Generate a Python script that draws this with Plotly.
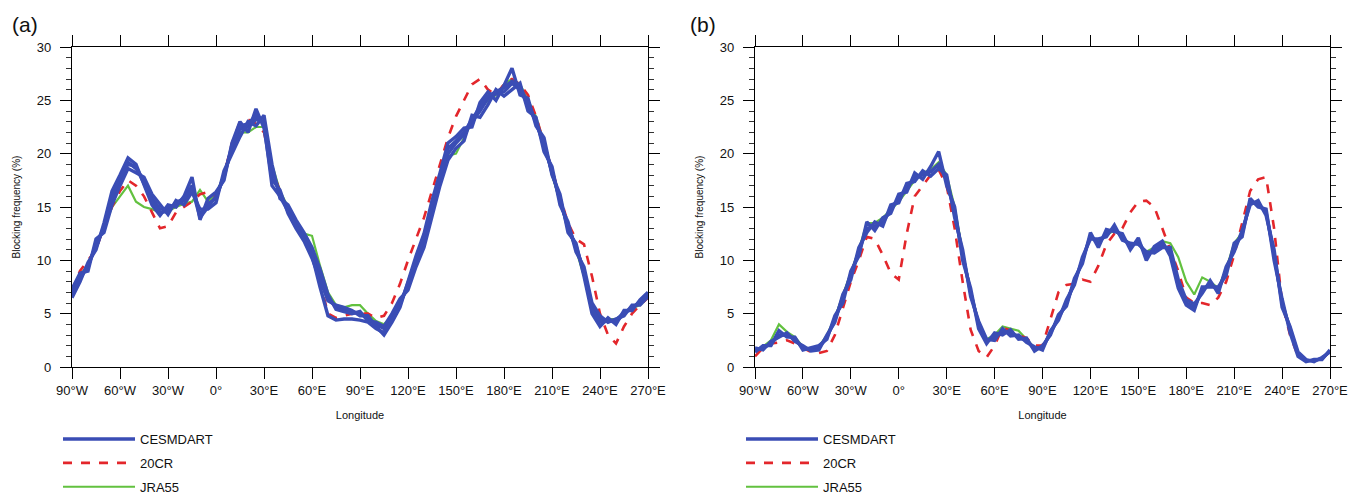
import plotly.graph_objects as go

lon = list(range(-90, 271, 5))
tick_vals = [-90, -60, -30, 0, 30, 60, 90, 120, 150, 180, 210, 240, 270]
tick_text = ["90°W", "60°W", "30°W", "0°", "30°E", "60°E", "90°E", "120°E",
             "150°E", "180°E", "210°E", "240°E", "270°E"]

# ---------------- panel (a) ----------------
cesm_a1 = [7.0, 8.4, 9.4, 11.5, 13.0, 15.8, 17.5, 19.2, 18.6, 17.5, 15.8, 14.8, 14.8, 15.3, 15.6, 17.0,
           14.3, 15.3, 15.8, 18.0, 20.5, 22.3, 22.5, 23.2, 23.0, 18.5, 16.2, 14.8, 13.5, 12.3, 10.8, 8.8,
           6.5, 5.6, 5.4, 5.2, 5.0, 4.6, 4.0, 3.6, 4.6, 6.0, 7.6, 9.8, 11.8, 14.8, 17.5, 20.0, 21.0, 21.8,
           23.0, 24.0, 25.2, 25.6, 25.8, 26.6, 26.0, 24.6, 23.0, 20.8, 18.4, 15.6, 13.2, 11.2, 9.0, 5.6,
           4.5, 4.4, 4.2, 5.0, 5.6, 6.0, 6.8]
cesm_a2 = [6.5, 8.0, 9.8, 11.0, 13.5, 16.5, 18.0, 19.6, 19.0, 17.0, 15.2, 14.2, 15.2, 15.0, 16.0, 17.8,
           13.8, 15.8, 16.4, 17.5, 21.0, 23.0, 22.0, 24.2, 22.4, 17.6, 16.6, 14.4, 13.0, 11.8, 10.2, 8.2,
           6.2, 5.8, 5.6, 5.3, 4.8, 4.8, 3.8, 3.0, 4.2, 5.6, 8.0, 10.4, 12.5, 15.6, 18.2, 21.0, 21.6, 22.4,
           22.5, 24.8, 25.8, 25.0, 26.4, 28.0, 25.5, 25.2, 22.6, 21.5, 18.0, 16.2, 12.6, 11.6, 8.5, 5.0,
           3.8, 4.6, 4.0, 5.3, 5.3, 6.3, 7.0]
cesm_a3 = [7.3, 8.8, 9.0, 12.0, 12.6, 15.2, 17.0, 18.6, 18.2, 17.8, 16.2, 15.2, 14.3, 15.6, 15.2, 16.4,
           14.8, 14.8, 15.4, 18.4, 20.0, 21.6, 23.0, 22.6, 23.6, 19.0, 15.8, 15.2, 13.8, 12.6, 11.2, 9.2,
           6.8, 5.4, 5.2, 5.0, 5.2, 4.3, 4.2, 3.8, 5.0, 6.4, 7.2, 9.4, 11.2, 14.2, 17.0, 19.4, 20.5, 21.2,
           23.6, 23.4, 24.6, 26.0, 25.4, 26.0, 26.6, 24.0, 23.4, 20.2, 18.8, 15.2, 13.6, 10.8, 9.4, 6.0,
           4.8, 4.2, 4.5, 4.8, 5.8, 5.8, 6.6]
cesm_a4 = [6.8, 8.2, 9.6, 11.2, 13.2, 16.0, 17.8, 19.0, 18.8, 17.2, 15.5, 14.5, 14.6, 15.4, 15.8, 16.8,
           14.0, 15.0, 16.0, 17.8, 20.8, 22.6, 22.8, 23.6, 22.8, 17.0, 16.0, 14.6, 13.2, 12.0, 10.5, 7.5,
           4.8, 4.4, 4.5, 4.5, 4.4, 4.2, 3.6, 3.2, 4.4, 5.8, 7.8, 10.0, 12.2, 15.2, 17.8, 20.5, 21.2, 22.0,
           23.2, 24.4, 25.4, 25.8, 26.2, 26.8, 26.2, 24.8, 22.8, 21.0, 18.2, 15.8, 13.0, 11.4, 8.8, 5.4,
           4.2, 4.3, 4.4, 5.1, 5.5, 6.1, 6.9]
cr20_a = [7.2, 9.0, 10.0, 11.0, 13.2, 15.0, 16.5, 17.5, 17.0, 16.0, 14.5, 13.0, 13.2, 14.5, 15.0, 15.5,
          16.2, 16.4, 16.0, 18.0, 21.0, 23.0, 23.2, 22.8, 22.0, 18.5, 16.5, 14.5, 13.0, 12.2, 11.0, 8.0,
          5.0, 4.6, 4.8, 5.0, 5.0, 5.0, 4.6, 4.8, 6.0, 7.8, 10.0, 12.0, 14.0, 16.5, 19.0, 21.5, 23.5, 25.0,
          26.5, 27.0, 26.0, 25.5, 26.5, 27.0, 26.5, 25.5, 23.5, 21.0, 18.5, 16.0, 13.5, 12.0, 11.5, 8.5,
          5.0, 3.0, 2.2, 3.8, 5.0, 5.8, 6.5]
jra_a = [7.0, 8.6, 9.6, 11.5, 13.0, 15.0, 16.0, 17.0, 15.5, 15.0, 14.8, 14.5, 14.6, 15.0, 15.3, 15.5,
         16.6, 15.5, 16.2, 18.0, 20.5, 22.0, 22.0, 22.5, 22.5, 19.0, 16.5, 15.0, 13.5, 12.5, 12.3, 9.5,
         7.0, 5.8, 5.6, 5.8, 5.8, 5.0, 4.3, 4.0, 4.8, 6.0, 7.5, 9.5, 12.0, 14.5, 17.5, 19.8, 20.0, 21.5,
         23.0, 24.2, 25.0, 25.5, 26.5, 27.0, 26.5, 25.0, 23.5, 21.0, 18.0, 15.5, 13.0, 11.0, 8.5, 5.5,
         4.3, 4.5, 4.5, 5.0, 5.5, 5.8, 6.5]

# ---------------- panel (b) ----------------
cesm_b1 = [1.6, 1.8, 2.2, 3.0, 3.0, 2.6, 1.8, 1.6, 1.8, 2.8, 4.4, 6.5, 8.5, 10.8, 13.0, 13.2,
           13.5, 14.8, 15.8, 16.8, 17.8, 18.0, 18.3, 19.0, 17.5, 14.5, 10.5, 7.0, 4.0, 2.4, 2.8, 3.3,
           3.2, 2.8, 2.5, 1.7, 1.8, 3.2, 4.6, 6.0, 8.0, 10.0, 12.3, 11.6, 12.5, 13.0, 12.2, 11.3, 11.8, 10.5,
           11.0, 11.5, 10.8, 7.8, 6.0, 5.6, 7.2, 7.8, 7.2, 9.0, 11.2, 12.5, 15.5, 15.3, 14.5, 10.5,
           6.0, 3.5, 1.2, 0.6, 0.6, 0.8, 1.5]
cesm_b2 = [1.4, 2.0, 2.0, 3.4, 2.8, 2.8, 1.6, 1.8, 2.0, 2.6, 4.8, 6.0, 9.0, 10.4, 13.6, 12.8,
           14.0, 14.4, 16.2, 16.4, 18.2, 17.6, 18.8, 20.2, 17.0, 15.0, 10.0, 7.4, 3.6, 2.2, 3.2, 3.0,
           3.5, 2.6, 2.7, 1.5, 2.0, 3.0, 4.9, 5.7, 8.3, 9.7, 12.6, 11.2, 12.9, 12.7, 12.5, 11.0, 12.1, 10.0,
           11.3, 11.8, 10.4, 7.4, 5.8, 5.3, 7.5, 7.5, 7.5, 8.6, 11.6, 12.2, 15.8, 15.0, 14.8, 10.0,
           6.4, 3.2, 1.0, 0.5, 0.7, 0.7, 1.6]
cesm_b3 = [1.8, 1.6, 2.4, 2.8, 3.2, 2.4, 2.0, 1.5, 1.6, 3.0, 4.2, 6.8, 8.2, 11.2, 12.6, 13.6,
           13.2, 15.2, 15.4, 17.2, 17.4, 18.4, 17.9, 18.6, 18.0, 14.0, 11.0, 6.6, 4.3, 2.6, 2.5, 3.6,
           2.9, 3.0, 2.3, 1.9, 1.6, 3.4, 4.4, 6.3, 7.7, 10.3, 12.0, 12.0, 12.2, 13.3, 11.9, 11.6, 11.5, 10.8,
           10.7, 11.2, 11.2, 8.2, 6.3, 5.9, 6.9, 8.1, 6.9, 9.4, 10.8, 12.8, 15.2, 15.6, 14.2, 11.0,
           5.6, 3.8, 1.4, 0.7, 0.5, 0.9, 1.4]
cr20_b = [1.0, 1.8, 2.2, 2.3, 2.5, 2.2, 1.8, 1.4, 1.3, 1.5, 3.0, 5.5, 8.0, 10.0, 12.2, 12.0,
          10.5, 8.8, 8.2, 12.5, 16.0, 17.0, 18.0, 18.5, 17.0, 13.0, 8.0, 3.5, 1.5, 0.9, 2.0, 3.7,
          3.4, 3.0, 2.7, 2.0, 2.0, 4.5, 7.0, 7.7, 7.8, 8.2, 8.0, 9.5, 11.5, 12.5, 13.0, 14.5, 15.5, 15.6,
          15.0, 13.0, 11.0, 9.0, 6.5, 6.0, 6.0, 5.8, 6.5, 8.0, 10.5, 13.5, 16.5, 17.6, 17.8, 13.0,
          6.0, 3.0, 1.0, 0.6, 0.6, 0.8, 1.4]
jra_b = [1.6, 1.9, 2.5, 4.0, 3.3, 2.8, 1.9, 1.7, 1.9, 3.0, 4.6, 6.8, 9.0, 11.0, 13.5, 13.5,
         14.0, 14.8, 15.5, 16.5, 17.5, 18.2, 18.5, 19.2, 18.0, 15.0, 10.8, 7.2, 4.2, 2.6, 3.0, 3.8,
         3.6, 3.4, 2.6, 1.8, 1.8, 3.2, 4.8, 5.8, 8.0, 10.2, 12.2, 11.8, 12.4, 12.8, 12.2, 11.5, 11.6, 10.8,
         11.2, 11.8, 11.6, 10.3, 8.0, 6.8, 8.4, 8.0, 7.4, 9.2, 11.6, 12.6, 15.4, 15.2, 14.6, 10.8,
         6.2, 3.6, 1.2, 0.6, 0.6, 0.8, 1.5]

BLUE = "#3a4db5"
RED = "#e3262b"
GREEN = "#62c13f"
FONT = "Liberation Sans, Arial, sans-serif"

fig = go.Figure()

panels = [
    dict(cesm=[cesm_a1, cesm_a2, cesm_a3, cesm_a4], cr=cr20_a, jra=jra_a, xa="x", ya="y", lg="legend"),
    dict(cesm=[cesm_b1, cesm_b2, cesm_b3], cr=cr20_b, jra=jra_b, xa="x2", ya="y2", lg="legend2"),
]

for p in panels:
    fig.add_trace(go.Scatter(x=lon, y=p["jra"], mode="lines", name="JRA55",
                             line=dict(color=GREEN, width=2.2), xaxis=p["xa"], yaxis=p["ya"],
                             legend=p["lg"], legendrank=3, legendgroup="g"))
    fig.add_trace(go.Scatter(x=lon, y=p["cr"], mode="lines", name="20CR",
                             line=dict(color=RED, width=2.6, dash="dash"), xaxis=p["xa"], yaxis=p["ya"],
                             legend=p["lg"], legendrank=2, legendgroup="r"))
    for i, m in enumerate(p["cesm"]):
        fig.add_trace(go.Scatter(x=lon, y=m, mode="lines", name="CESMDART",
                                 line=dict(color=BLUE, width=3.4), xaxis=p["xa"], yaxis=p["ya"],
                                 legend=p["lg"], legendrank=1, legendgroup="c", showlegend=(i == 0)))

W, H = 1348, 495
dom_a = [72 / W, 648 / W]
dom_b = [755 / W, 1330 / W]
ydom = [(H - 367) / H, (H - 47) / H]

xcommon = dict(range=[-90, 270], tickvals=tick_vals, ticktext=tick_text, ticks="outside",
               ticklen=11, tickwidth=1.3, tickcolor="black", showline=True, linecolor="black",
               linewidth=1.3, mirror="ticks", showgrid=False, zeroline=False, automargin=False,
               ticklabeloverflow="allow",
               tickfont=dict(size=13, color="#111", family=FONT),
               title=dict(text="Longitude", font=dict(size=11, color="#111", family=FONT), standoff=14))
ycommon = dict(range=[0, 30], dtick=5, tick0=0, ticks="outside", ticklen=11, tickwidth=1.3,
               tickcolor="black", showline=True, linecolor="black", linewidth=1.3, mirror="ticks",
               showgrid=False, zeroline=False, automargin=False, ticklabelstandoff=6,
               minor=dict(dtick=1, ticks="outside", ticklen=5, tickcolor="#333", tickwidth=1),
               tickfont=dict(size=13, color="#111", family=FONT),
               title=dict(text="Blocking frequency (%)", font=dict(size=10, color="#111", family=FONT),
                          standoff=14))

fig.update_layout(
    width=W, height=H,
    margin=dict(l=0, r=0, t=0, b=0, autoexpand=False),
    paper_bgcolor="white", plot_bgcolor="white",
    font=dict(family=FONT, color="#111"),
    xaxis=dict(domain=dom_a, anchor="y", **xcommon),
    yaxis=dict(domain=ydom, anchor="x", **ycommon),
    xaxis2=dict(domain=dom_b, anchor="y2", **xcommon),
    yaxis2=dict(domain=ydom, anchor="x2", **ycommon),
    legend=dict(x=58 / W, y=1 - 424 / H, xanchor="left", yanchor="top", orientation="v",
                font=dict(size=13, color="#111", family=FONT), bgcolor="rgba(0,0,0,0)",
                tracegroupgap=4, itemwidth=72),
    legend2=dict(x=741 / W, y=1 - 424 / H, xanchor="left", yanchor="top", orientation="v",
                 font=dict(size=13, color="#111", family=FONT), bgcolor="rgba(0,0,0,0)",
                 tracegroupgap=4, itemwidth=72),
    annotations=[
        dict(text="(a)", x=10 / W, y=1 - 25 / H, xref="paper", yref="paper", xanchor="left",
             yanchor="middle", showarrow=False, font=dict(size=21, color="#111", family=FONT)),
        dict(text="(b)", x=688 / W, y=1 - 25 / H, xref="paper", yref="paper", xanchor="left",
             yanchor="middle", showarrow=False, font=dict(size=21, color="#111", family=FONT)),
    ],
)

fig.write_html("out.html", config={"displayModeBar": False},
               post_script="document.body.style.margin='0';document.body.style.overflow='hidden';")
